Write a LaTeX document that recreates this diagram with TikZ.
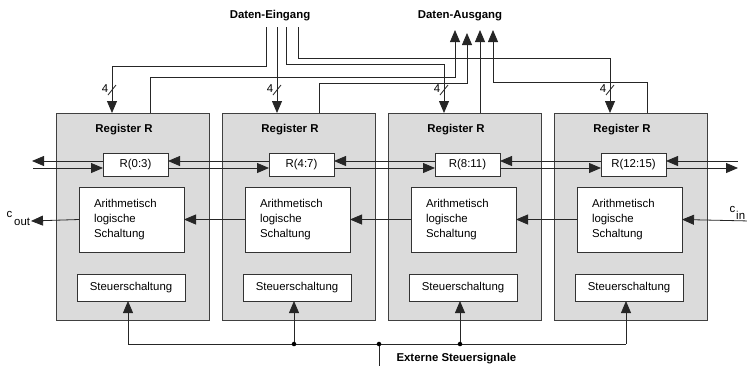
\documentclass[tikz,border=0pt]{standalone}
\usepackage{fontspec}
\setmainfont{Liberation Sans}
\usetikzlibrary{arrows.meta}

\tikzset{
  every node/.style={font=\fontsize{11.4}{15}\selectfont},
  reg/.style={draw=black!75, fill=black!14, line width=0.8pt, minimum width=153pt, minimum height=207pt, inner sep=0pt, outer sep=0pt},
  rpart/.style={draw=black!80, fill=white, line width=0.8pt, minimum width=65pt, minimum height=23pt, inner sep=0pt, outer sep=0pt},
  alu/.style={draw=black!80, fill=white, line width=0.8pt, minimum width=105pt, minimum height=65pt, text width=75pt, inner xsep=15pt, inner ysep=0pt, align=left, outer sep=0pt},
  steuer/.style={draw=black!80, fill=white, line width=0.8pt, minimum width=108pt, minimum height=27pt, inner sep=0pt, outer sep=0pt},
  title/.style={font=\fontsize{11.4}{15}\selectfont\bfseries},
  wire/.style={black!85, line width=0.8pt},
  arr/.style={wire, -{Triangle[length=12pt,width=10pt]}},
  dot/.style={fill=black, circle, inner sep=1.6pt}
}

\begin{document}
\begin{tikzpicture}[x=1pt, y=-1pt]
      \useasboundingbox (0,0) rectangle (747,365);

      % vier Scheiben
      \node [reg] (reg1) at (132.5,216.5) {};
      \node [reg] (reg2) at (298.5,216.5) {};
      \node [reg] (reg3) at (464.5,216.5) {};
      \node [reg] (reg4) at (630.5,216.5) {};

      \node [title] (lab1) at (124,130) {Register R};
      \node [title] (lab2) at (290,130) {Register R};
      \node [title] (lab3) at (456,130) {Register R};
      \node [title] (lab4) at (622,130) {Register R};

      \node [rpart] (r1) at (135.5,164.5) {R(0:3)};
      \node [rpart] (r2) at (301.5,164.5) {R(4:7)};
      \node [rpart] (r3) at (467.5,164.5) {R(8:11)};
      \node [rpart] (r4) at (633.5,164.5) {R(12:15)};

      \node [alu] (alu1) at (131.5,219.5) {Arithmetisch\\logische\\Schaltung};
      \node [alu] (alu2) at (297.5,219.5) {Arithmetisch\\logische\\Schaltung};
      \node [alu] (alu3) at (463.5,219.5) {Arithmetisch\\logische\\Schaltung};
      \node [alu] (alu4) at (629.5,219.5) {Arithmetisch\\logische\\Schaltung};

      \node [steuer] (st1) at (131,287.5) {Steuerschaltung};
      \node [steuer] (st2) at (297,287.5) {Steuerschaltung};
      \node [steuer] (st3) at (463,287.5) {Steuerschaltung};
      \node [steuer] (st4) at (629,287.5) {Steuerschaltung};

      % Schieben
      \coordinate (sl1) at (32,161);
      \coordinate (sl2) at (33,168);
      \coordinate (sr1) at (738,161);
      \coordinate (sr2) at (738,168);
      \draw [arr] ([yshift=3.5pt]r1.west) -- (sl1);
      \draw [arr] (sl2) -- ([yshift=-3.5pt]r1.west);
      \draw [arr] ([yshift=3.5pt]r2.west) -- ([yshift=3.5pt]r1.east);
      \draw [arr] ([yshift=-3.5pt]r1.east) -- ([yshift=-3.5pt]r2.west);
      \draw [arr] ([yshift=3.5pt]r3.west) -- ([yshift=3.5pt]r2.east);
      \draw [arr] ([yshift=-3.5pt]r2.east) -- ([yshift=-3.5pt]r3.west);
      \draw [arr] ([yshift=3.5pt]r4.west) -- ([yshift=3.5pt]r3.east);
      \draw [arr] ([yshift=-3.5pt]r3.east) -- ([yshift=-3.5pt]r4.west);
      \draw [arr] (sr1) -- ([yshift=3.5pt]r4.east);
      \draw [arr] ([yshift=-3.5pt]r4.east) -- (sr2);

      % Uebertrag
      \coordinate (cout) at (31,221);
      \coordinate (cin) at (750,221);
      \node [anchor=base west] (coutlbl) at (3,217) {c\kern2pt\raisebox{-8pt}{out}};
      \node [anchor=base west] (cinlbl) at (726,212) {c\kern1pt\raisebox{-7pt}{in}};
      \draw [arr] (cin) -- (alu4.east);
      \draw [arr] (alu4.west) -- (alu3.east);
      \draw [arr] (alu3.west) -- (alu2.east);
      \draw [arr] (alu2.west) -- (alu1.east);
      \draw [arr] (alu1.west) -- (cout);

      % Daten-Eingang
      \node [title, anchor=base] (din) at (270,18) {Daten-Eingang};
      \coordinate (din1) at (266,27);
      \coordinate (din2) at (277,27);
      \coordinate (din3) at (286,27);
      \coordinate (din4) at (298,27);
      \coordinate (in1) at (112,113);
      \coordinate (in2) at (277,113);
      \coordinate (in3) at (444,113);
      \coordinate (in4) at (610,113);
      \draw [arr] (din1) |- (112,66) -- (in1);
      \draw [arr] (din2) -- (in2);
      \draw [arr] (din3) |- (444,64) -- (in3);
      \draw [arr] (din4) |- (610,58) -- (in4);

      \draw [wire] (108,95) -- (116,85);
      \draw [wire] (273,95) -- (281,85);
      \draw [wire] (440,95) -- (448,85);
      \draw [wire] (606,95) -- (614,85);
      \node (n1) at (105,89) {4};
      \node (n2) at (270,89) {4};
      \node (n3) at (437,89) {4};
      \node (n4) at (603,89) {4};

      % Daten-Ausgang
      \node [title, anchor=base] (dout) at (460,18) {Daten-Ausgang};
      \coordinate (o1) at (150,113);
      \coordinate (o2) at (319,113);
      \coordinate (o3) at (480,113);
      \coordinate (o4) at (647,113);
      \coordinate (dout1) at (455,30);
      \coordinate (dout2) at (467,33);
      \coordinate (dout3) at (480,30);
      \coordinate (dout4) at (493,30);
      \draw [arr] (o1) |- (455,77) -- (dout1);
      \draw [arr] (o2) |- (467,83) -- (dout2);
      \draw [arr] (o3) -- (dout3);
      \draw [arr] (o4) |- (493,82) -- (dout4);

      % Steuersignale
      \coordinate (b1) at (128,344);
      \coordinate (b2) at (294,344);
      \coordinate (b3) at (460,344);
      \coordinate (b4) at (626,344);
      \coordinate (ext) at (379,344);
      \coordinate (extend) at (379,366);
      \draw [wire] (b1) -- (b4);
      \draw [wire] (ext) -- (extend);
      \draw [arr] (b1) -- (b1 |- st1.south);
      \draw [arr] (b2) -- (b2 |- st2.south);
      \draw [arr] (b3) -- (b3 |- st3.south);
      \draw [arr] (b4) -- (b4 |- st4.south);
      \node [dot] (d2) at (b2) {};
      \node [dot] (d3) at (b3) {};
      \node [dot] (dx) at (ext) {};
      \node [title, anchor=base west] (extlbl) at (393,361) {Externe Steuersignale};

  \end{tikzpicture}
\end{document}
